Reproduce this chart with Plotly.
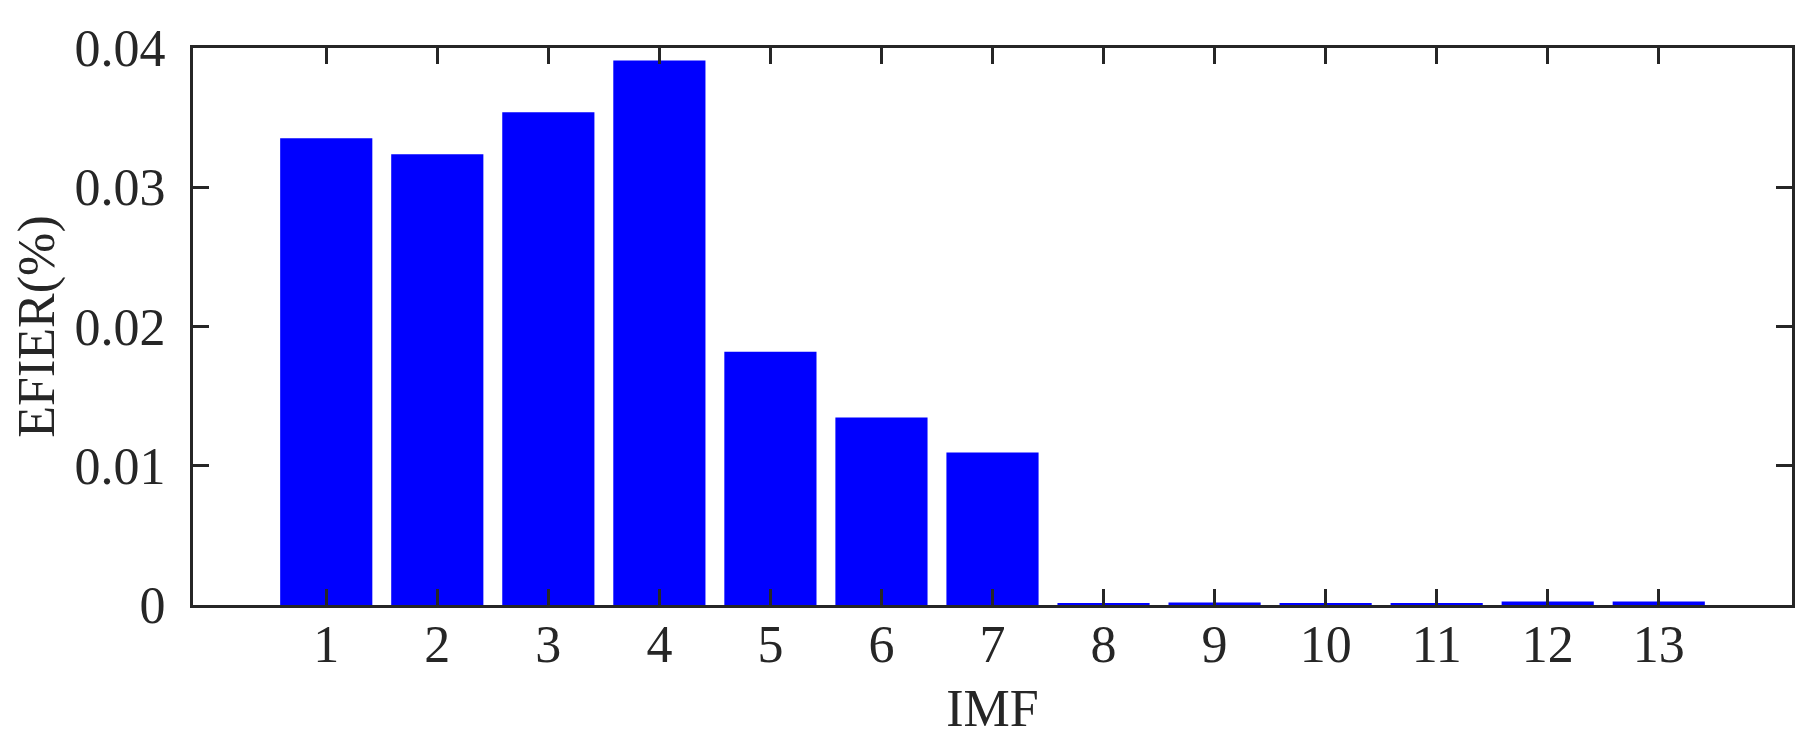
import plotly.graph_objects as go

imf = list(range(1, 14))
efier = [0.03352, 0.03237, 0.03538, 0.0391, 0.01819, 0.01347, 0.01096,
         0.0001, 0.00018, 0.0001, 0.0001, 0.00025, 0.00025]

y_ticks = [0, 0.01, 0.02, 0.03, 0.04]
y_labels = ['0', '0.01', '0.02', '0.03', '0.04']

axis_color = '#262626'
font_family = 'Liberation Serif, Times New Roman, serif'

fig = go.Figure()
fig.add_trace(go.Bar(x=imf, y=efier,
                     width=0.83,
                     marker_color='#0000ff',
                     marker_line_width=0,
                     name='EFIER'))

fig.update_layout(
    width=1811, height=747,
    margin=dict(l=185, r=27, t=38, b=150),
    paper_bgcolor='white',
    plot_bgcolor='white',
    showlegend=False,
    font=dict(family=font_family, size=52, color=axis_color),
    xaxis=dict(
        range=[-0.2, 14.2],
        tickvals=imf,
        ticktext=[str(i) for i in imf],
        ticks='inside', ticklen=16, tickwidth=3, tickcolor=axis_color,
        showline=True, linewidth=3, linecolor=axis_color,
        mirror='allticks',
        showgrid=False, zeroline=False,
        ticklabelstandoff=-8,
        title=dict(text='IMF', font=dict(size=52), standoff=18),
    ),
    yaxis=dict(
        range=[0, 0.04],
        tickvals=y_ticks,
        ticktext=y_labels,
        ticks='inside', ticklen=16, tickwidth=3, tickcolor=axis_color,
        showline=True, linewidth=3, linecolor=axis_color,
        mirror='allticks',
        showgrid=False, zeroline=False,
        ticklabelstandoff=14,
        title=dict(text='EFIER(%)', font=dict(size=52), standoff=8),
    ),
)

fig.write_html("out.html")
